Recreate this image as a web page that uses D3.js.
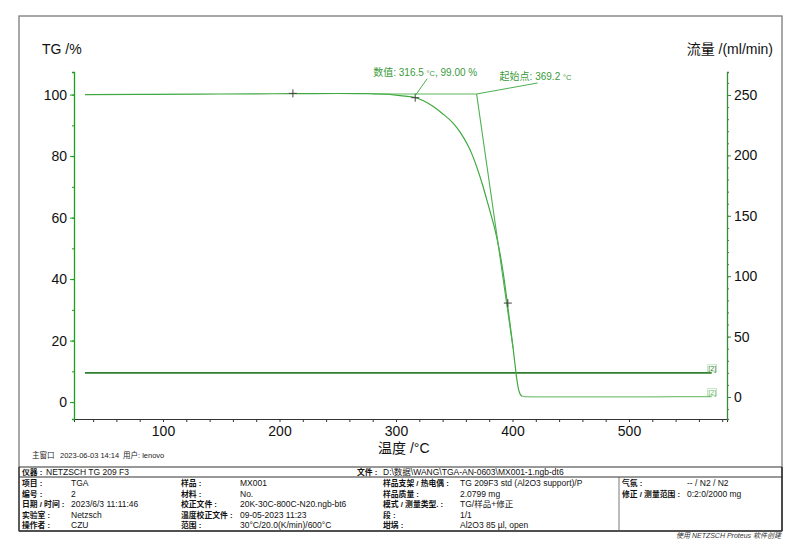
<!DOCTYPE html>
<html><head><meta charset="utf-8">
<script src="https://cdn.jsdelivr.net/npm/d3@7"></script>
<style>
body{margin:0;background:#fff}
text{font-family:"Liberation Sans",Arial,"Noto Sans CJK SC",sans-serif}
</style>
</head><body>
<svg id="c" width="800" height="556"></svg>
<script>
// ---- data ----
const tgTemp = [33, 80, 130, 180, 211, 250, 275, 290, 300, 310, 316.5, 324, 332, 340, 349, 355, 361, 365, 369.3, 374, 378, 382, 385, 388, 391, 393, 395, 397.5, 400, 402, 403.5, 405, 406.5, 408, 410, 420, 450, 500, 540, 571];
const tgMass = [100.0, 100.05, 100.15, 100.25, 100.3, 100.35, 100.3, 100.15, 99.85, 99.4, 99.0, 97.9, 96.1, 93.8, 90.7, 87.8, 84.0, 80.8, 76.5, 71.0, 65.7, 60.3, 56.0, 50.8, 44.5, 39.5, 33.8, 26.5, 19.2, 12.8, 8.0, 4.5, 2.6, 1.9, 1.75, 1.7, 1.7, 1.7, 1.75, 1.75];
const flowTemp = [33, 571];
const flowValue = [20, 20];
const markerTemp = [211.5, 316.5, 396];
const markerMass = [100.4, 99.0, 32.2];
const onsetTemp = 369.2;
const baselineTemp = [280, 369.2];
const baselineMass = [100.2, 100.2];
const tangentTemp = [369.2, 400.5];
const tangentMass = [100.2, 17.5];
const xTicks = [100, 200, 300, 400, 500];
const tgTicks = [0, 20, 40, 60, 80, 100];
const flowTicks = [0, 50, 100, 150, 200, 250];
const pointLabel = ["数值: 316.5 ", "°C", ", 99.00 %"];
const onsetLabel = ["起始点: 369.2 ", "°C"];

const svg = d3.select("#c");
const L = 74, R = 727, T = 72, B = 419;
const x = d3.scaleLinear().domain([23.61, 584.12]).range([L, R]);
const yTG = d3.scaleLinear().domain([-5.5, 107.35]).range([B, T]);
const yF = d3.scaleLinear().domain([-18.21, 269.04]).range([B, T]);

// outer frame
svg.append("rect").attr("x", 19).attr("y", 16).attr("width", 763).attr("height", 515)
  .attr("fill", "none").attr("stroke", "#7a7a7a").attr("stroke-width", 1.3);

// axes
const xAxis = svg.append("g").attr("transform", `translate(0,${B})`)
  .call(d3.axisBottom(x).tickValues(d3.range(40, 581, 20)).tickSize(3).tickFormat(""));
xAxis.select(".domain").attr("stroke", "#333");
xAxis.selectAll(".tick line").attr("stroke", "#333");
svg.append("g").attr("transform", `translate(0,${B})`)
  .call(d3.axisBottom(x).tickValues(xTicks).tickSize(0).tickPadding(7))
  .call(g => g.select(".domain").remove())
  .selectAll("text").attr("font-size", 14).attr("fill", "#111")
  .attr("font-family", "Liberation Sans, Arial, sans-serif");

const lg = svg.append("g").attr("transform", `translate(${L},0)`)
  .call(d3.axisLeft(yTG).tickValues(d3.range(0, 101, 10)).tickSize(2).tickFormat(""));
lg.select(".domain").attr("stroke", "#1aa01a").attr("stroke-width", 1.3);
lg.selectAll(".tick line").attr("stroke", "#1aa01a");
svg.append("g").attr("transform", `translate(${L},0)`)
  .call(d3.axisLeft(yTG).tickValues(tgTicks).tickSize(4).tickPadding(3))
  .call(g => g.select(".domain").remove())
  .call(g => g.selectAll(".tick line").attr("stroke", "#1aa01a"))
  .selectAll("text").attr("font-size", 14).attr("fill", "#111");

const rg = svg.append("g").attr("transform", `translate(${R},0)`)
  .call(d3.axisRight(yF).tickValues(d3.range(-10, 261, 10)).tickSize(2).tickFormat(""));
rg.select(".domain").attr("stroke", "#3a8c3a").attr("stroke-width", 1.3);
rg.selectAll(".tick line").attr("stroke", "#3a8c3a");
svg.append("g").attr("transform", `translate(${R},0)`)
  .call(d3.axisRight(yF).tickValues(flowTicks).tickSize(4).tickPadding(3))
  .call(g => g.select(".domain").remove())
  .call(g => g.selectAll(".tick line").attr("stroke", "#3a8c3a"))
  .selectAll("text").attr("font-size", 14).attr("fill", "#111");

// axis titles
svg.append("text").attr("x", 42).attr("y", 54).attr("font-size", 14).attr("fill", "#111").text("TG /%");
svg.append("text").attr("x", 773).attr("y", 54).attr("font-size", 14).attr("fill", "#111")
  .attr("text-anchor", "end").text("流量 /(ml/min)");
svg.append("text").attr("x", 378).attr("y", 453).attr("font-size", 14).attr("fill", "#111").text("温度 /°C");

// flow line
const flowData = flowTemp.map((t, i) => [t, flowValue[i]]);
svg.append("path").datum(flowData)
  .attr("d", d3.line().x(d => x(d[0])).y(d => yF(d[1])))
  .attr("fill", "none").attr("stroke", "#2f7f2f").attr("stroke-width", 1.6);

// TG curve
const tgData = tgTemp.map((t, i) => [t, tgMass[i]]);
const tgLine = d3.line().x(d => x(d[0])).y(d => yTG(d[1])).curve(d3.curveMonotoneX);
svg.append("path").datum(tgData.filter(d => d[0] >= 408))
  .attr("d", tgLine).attr("fill", "none").attr("stroke", "#7cc47c").attr("stroke-width", 1.3);
svg.append("path").datum(tgData.filter(d => d[0] <= 408))
  .attr("d", tgLine).attr("fill", "none").attr("stroke", "#3fa83f").attr("stroke-width", 1.2);

// baseline and tangent for onset
const ln = d3.line().x(d => x(d[0])).y(d => yTG(d[1]));
svg.append("path").datum(baselineTemp.map((t, i) => [t, baselineMass[i]]))
  .attr("d", ln).attr("fill", "none").attr("stroke", "#5cb85c").attr("stroke-width", 1.1);
svg.append("path").datum(tangentTemp.map((t, i) => [t, tangentMass[i]]))
  .attr("d", ln).attr("fill", "none").attr("stroke", "#4caf50").attr("stroke-width", 1.1);

// markers
markerTemp.forEach((t, i) => {
  const cx = x(t), cy = yTG(markerMass[i]);
  svg.append("path").attr("d", `M${cx - 4},${cy}H${cx + 4}M${cx},${cy - 4}V${cy + 4}`)
    .attr("stroke", "#444").attr("stroke-width", 1);
});

// annotations
const green = "#3a9a3a";
const px = x(316.5), py = yTG(99.0);
svg.append("line").attr("x1", px).attr("y1", py - 2).attr("x2", px + 12).attr("y2", py - 19)
  .attr("stroke", "#4caf50").attr("stroke-width", 1);
const t1 = svg.append("text").attr("x", px - 42).attr("y", py - 22).attr("font-size", 10).attr("fill", green);
t1.append("tspan").text(pointLabel[0]);
t1.append("tspan").attr("font-size", 7.5).text(pointLabel[1]);
t1.append("tspan").text(pointLabel[2]);

const ox = x(onsetTemp), oy = yTG(100.2);
svg.append("line").attr("x1", ox).attr("y1", oy).attr("x2", ox + 61).attr("y2", oy - 11)
  .attr("stroke", "#4caf50").attr("stroke-width", 1);
const t2 = svg.append("text").attr("x", ox + 23).attr("y", oy - 14).attr("font-size", 10).attr("fill", green);
t2.append("tspan").text(onsetLabel[0]);
t2.append("tspan").attr("font-size", 7.5).text(onsetLabel[1]);

// [2] tags
[[yF(20), "#2f7f2f"], [yTG(1.75), "#5cb85c"]].forEach(([yy, c]) => {
  svg.append("rect").attr("x", x(571) - 4).attr("y", yy - 8).attr("width", 9).attr("height", 7)
    .attr("fill", "#fff").attr("stroke", "#9fd49f").attr("stroke-width", 0.6);
  svg.append("text").attr("x", x(571) + 0.5).attr("y", yy - 2).attr("font-size", 7)
    .attr("text-anchor", "middle").attr("fill", c).text("[2]");
});

// footer line
const f = svg.append("g").attr("font-size", 7.5).attr("fill", "#222");
f.append("text").attr("x", 32).attr("y", 458).text("主窗口");
f.append("text").attr("x", 60).attr("y", 458).text("2023-06-03 14:14");
f.append("text").attr("x", 123).attr("y", 458).text("用户: lenovo");

// table
const tb = svg.append("g");
tb.append("line").attr("x1", 19).attr("x2", 782).attr("y1", 467).attr("y2", 467).attr("stroke", "#333").attr("stroke-width", 1.1);
tb.append("line").attr("x1", 19).attr("x2", 782).attr("y1", 477).attr("y2", 477).attr("stroke", "#333").attr("stroke-width", 1);
tb.append("line").attr("x1", 19).attr("x2", 782).attr("y1", 531).attr("y2", 531).attr("stroke", "#333").attr("stroke-width", 1.6);
tb.append("line").attr("x1", 619).attr("x2", 619).attr("y1", 477).attr("y2", 531).attr("stroke", "#555").attr("stroke-width", 0.8);
tb.append("line").attr("x1", 782).attr("x2", 782).attr("y1", 467).attr("y2", 531).attr("stroke", "#333").attr("stroke-width", 1.6);
tb.append("line").attr("x1", 19).attr("x2", 19).attr("y1", 467).attr("y2", 531).attr("stroke", "#333").attr("stroke-width", 1.3);

const cell = (xx, yy, s, bold) => tb.append("text").attr("x", xx).attr("y", yy)
  .attr("font-size", bold ? 7.8 : 8.5)
  .attr("fill", "#111").attr("font-weight", bold ? "bold" : "normal").text(s);
cell(22, 475, "仪器 :", true); cell(46, 475, "NETZSCH TG 209 F3", false);
cell(357, 475, "文件 :", true); cell(383, 475, "D:\\数据\\WANG\\TGA-AN-0603\\MX001-1.ngb-dt6", false);
const rowsY = [486, 497, 507, 518, 528];
const c1L = ["项目 :", "编号 :", "日期 / 时间 :", "实验室 :", "操作者 :"];
const c1V = ["TGA", "2", "2023/6/3 11:11:46", "Netzsch", "CZU"];
const c2L = ["样品 :", "材料 :", "校正文件 :", "温度校正文件 :", "范围 :"];
const c2V = ["MX001", "No.", "20K-30C-800C-N20.ngb-bt6", "09-05-2023 11:23", "30°C/20.0(K/min)/600°C"];
const c3L = ["样品支架 / 热电偶 :", "样品质量 :", "模式 / 测量类型. :", "段 :", "坩埚 :"];
const c3V = ["TG 209F3 std (Al2O3 support)/P", "2.0799 mg", "TG/样品+修正", "1/1", "Al2O3 85 µl, open"];
const c4L = ["气氛 :", "修正 / 测量范围 :"];
const c4V = ["-- / N2 / N2", "0:2:0/2000 mg"];
rowsY.forEach((yy, i) => {
  cell(22, yy, c1L[i], true); cell(71, yy, c1V[i], false);
  cell(181, yy, c2L[i], true); cell(240, yy, c2V[i], false);
  cell(383, yy, c3L[i], true); cell(460, yy, c3V[i], false);
  if (i < c4L.length) { cell(622, yy, c4L[i], true); cell(687, yy, c4V[i], false); }
});
svg.append("text").attr("x", 781).attr("y", 538).attr("text-anchor", "end").attr("font-size", 7)
  .attr("font-style", "italic").attr("fill", "#333").text("使用 NETZSCH Proteus 软件创建");
</script>
</body></html>
